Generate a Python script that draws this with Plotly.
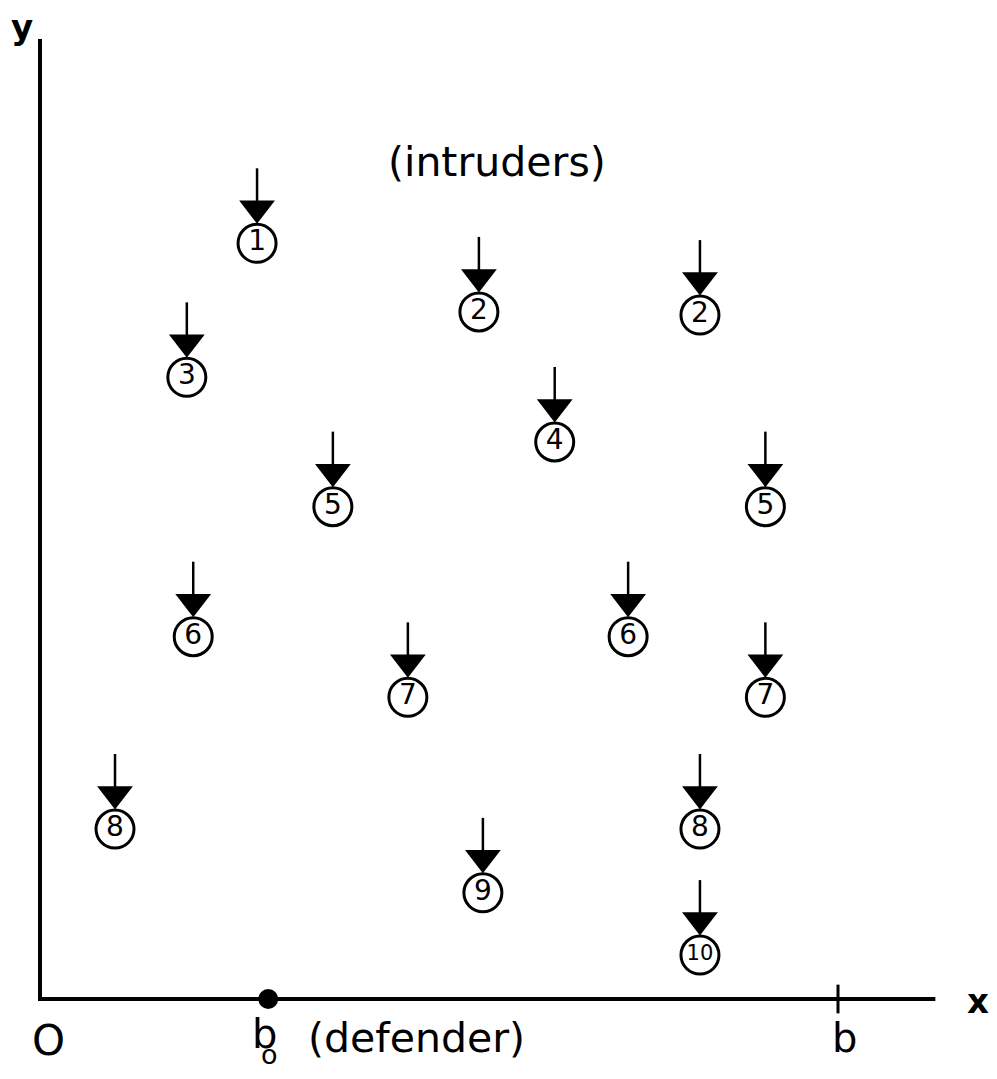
import plotly.graph_objects as go

# Intruder positions (x in units where b = 10, y same scale)
intruder_labels = ["1", "2", "2", "3", "4", "5", "5", "6", "6", "7", "7", "8", "8", "9", "10"]
intruder_x = [2.72, 5.50, 8.27, 1.84, 6.45, 3.67, 9.09, 1.92, 7.37, 4.61, 9.09, 0.94, 8.27, 5.55, 8.27]
intruder_y = [9.47, 8.61, 8.57, 7.79, 6.98, 6.17, 6.17, 4.54, 4.54, 3.78, 3.78, 2.13, 2.13, 1.33, 0.55]

defender_x = 2.86
b_value = 10.0

# geometry (px per unit); page body has an 8px margin
S = 79.8
PAD = 8
W, H = 997 - 2 * PAD, 1079 - 2 * PAD
FONT = "DejaVu Sans"

fig = go.Figure()

# arrow shafts
shaft_x, shaft_y = [], []
for x, y in zip(intruder_x, intruder_y):
    shaft_x += [x, x, None]
    shaft_y += [y + 75 / S, y + 40 / S, None]
fig.add_trace(go.Scatter(x=shaft_x, y=shaft_y, mode="lines",
                         line=dict(color="black", width=2.5), hoverinfo="skip"))

# arrow heads
fig.add_trace(go.Scatter(x=intruder_x, y=[y + 35 / S for y in intruder_y], mode="markers",
                         marker=dict(symbol="triangle-down", size=31, color="black",
                                     line=dict(width=0)), hoverinfo="skip"))

# circles with numbers
label_sizes = [28 if len(t) == 1 else 21 for t in intruder_labels]
fig.add_trace(go.Scatter(x=intruder_x, y=intruder_y, mode="markers+text",
                         text=intruder_labels, textposition="middle center",
                         textfont=dict(family=FONT, size=label_sizes, color="black"),
                         marker=dict(symbol="circle", size=38, color="white",
                                     line=dict(color="black", width=3)),
                         hoverinfo="skip"))

# axes lines
fig.add_trace(go.Scatter(x=[0, 0, 11.22], y=[12.03, 0, 0], mode="lines",
                         line=dict(color="black", width=4), hoverinfo="skip"))
# tick at b
fig.add_trace(go.Scatter(x=[b_value, b_value], y=[-0.18, 0.18], mode="lines",
                         line=dict(color="black", width=3), hoverinfo="skip"))
# defender
fig.add_trace(go.Scatter(x=[defender_x], y=[0], mode="markers",
                         marker=dict(symbol="circle", size=20, color="black"), hoverinfo="skip"))

ann = [
    dict(x=(22 - 40) / S, y=(999 - 27) / S, text="<b>y</b>", size=34),
    dict(x=(978 - 40) / S, y=(999 - 1001) / S, text="<b>x</b>", size=34),
    dict(x=(48 - 40) / S, y=(999 - 1040) / S, text="O", size=42),
    dict(x=(844 - 40) / S, y=(999 - 1038) / S, text="b", size=40),
    dict(x=(264 - 40) / S, y=(999 - 1034) / S, text="b", size=40),
    dict(x=(269 - 40) / S, y=(999 - 1054) / S, text="o", size=27),
    dict(x=(416 - 40) / S, y=(999 - 1038) / S, text="(defender)", size=41),
    dict(x=(497 - 40) / S, y=(999 - 162) / S, text="(intruders)", size=41),
]
for a in ann:
    fig.add_annotation(x=a["x"], y=a["y"], text=a["text"], showarrow=False,
                       xanchor="center", yanchor="middle",
                       font=dict(family=FONT, size=a["size"], color="black"))

fig.update_layout(
    width=W, height=H,
    margin=dict(l=0, r=0, t=0, b=0),
    paper_bgcolor="white", plot_bgcolor="white",
    showlegend=False,
    xaxis=dict(range=[(PAD - 40) / S, (PAD + W - 40) / S], visible=False, fixedrange=True),
    yaxis=dict(range=[(999 - PAD - H) / S, (999 - PAD) / S], visible=False, fixedrange=True),
)

fig.write_html("out.html")
